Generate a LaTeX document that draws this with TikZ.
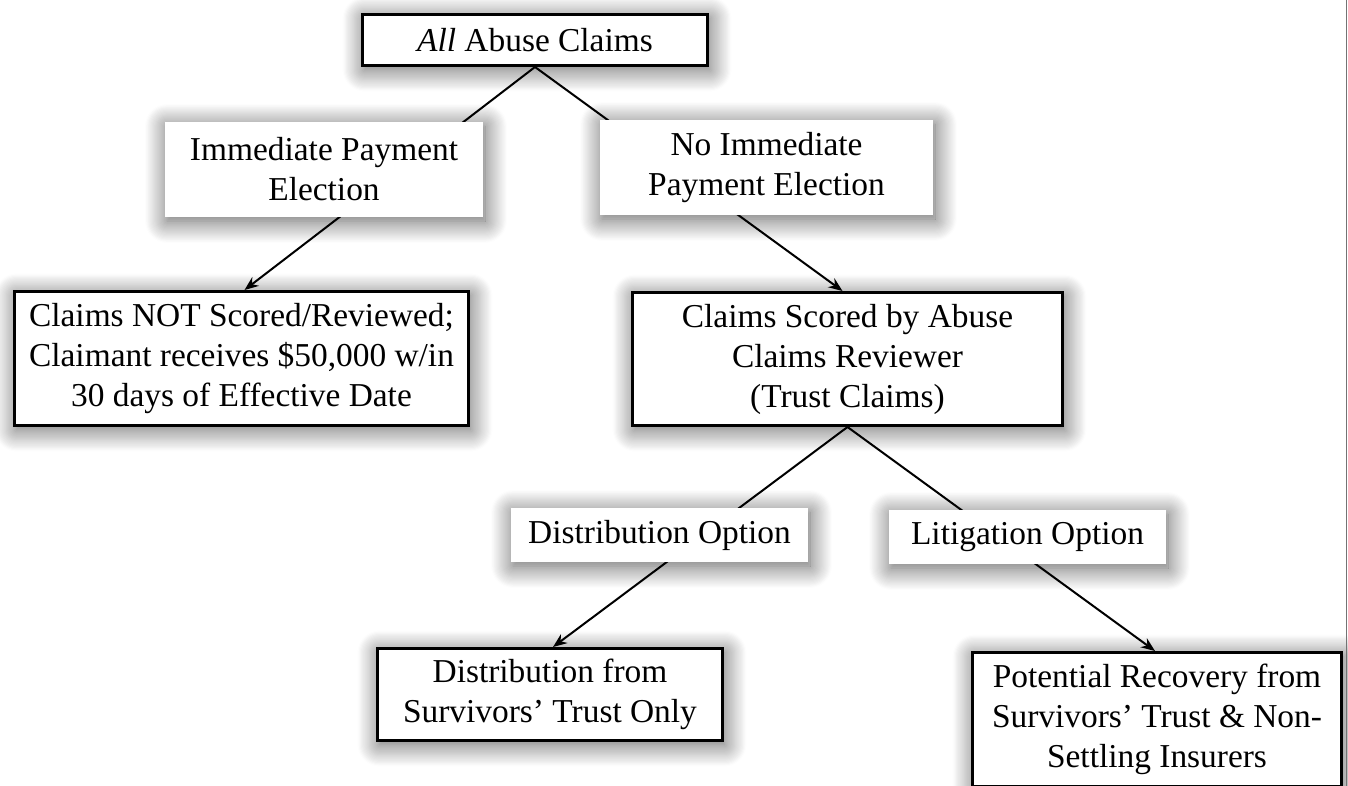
\documentclass[tikz,border=0pt]{standalone}
\usepackage{fontspec}
\setmainfont{Liberation Serif}
\usetikzlibrary{shadows.blur,arrows.meta}
\begin{document}
\begin{tikzpicture}[x=1pt,y=-1pt,
  font=\fontsize{33.4}{40}\selectfont,
  sh/.style={blur shadow={shadow xshift=2pt,shadow yshift=-4pt,shadow blur radius=22pt,shadow blur steps=20,shadow opacity=65}},
  box/.style={draw=black,line width=3pt,fill=white,sh,inner sep=0pt,align=center},
  lbl/.style={fill=white,sh,inner sep=0pt,align=center},
  arr/.style={line width=2pt,-{Stealth[length=14pt,width=11pt]}}]
\useasboundingbox (0,0) rectangle (1348,786);
% boxes
\node[box,minimum width=345pt,minimum height=51pt] (all) at (535,40) {\textit{All} Abuse Claims};
\node[box,minimum width=454pt,minimum height=134pt] (notbox) at (241.5,358.5) {Claims NOT Scored/Reviewed;\\Claimant receives \$50,000 w/in\\30 days of Effective Date};
\node[box,minimum width=430pt,minimum height=133pt] (scored) at (847.5,359) {Claims Scored by Abuse\\Claims Reviewer\\(Trust Claims)};
\node[box,minimum width=345pt,minimum height=92pt] (distbox) at (550,694.5) {Distribution from\\Survivors’ Trust Only};
\node[box,minimum width=369pt,minimum height=134pt] (potbox) at (1157,719.5) {Potential Recovery from\\Survivors’ Trust \& Non-\\Settling Insurers};
% connectors
\draw[arr] (all.south) -- ([xshift=3pt]notbox.north);
\draw[arr] (all.south) -- ([xshift=-5pt]scored.north);
\draw[arr] (scored.south) -- ([xshift=3pt]distbox.north);
\draw[arr] (scored.south) -- ([xshift=-2pt]potbox.north);
% labels
\node[lbl,minimum width=318pt,minimum height=95pt] (imm) at (324,169.5) {Immediate Payment\\Election};
\node[lbl,minimum width=333pt,minimum height=95pt] (noimm) at (766.5,167.5) {No Immediate\\Payment Election};
\node[lbl,minimum width=297pt,minimum height=54pt] (distopt) at (659.5,535) {Distribution Option};
\node[lbl,minimum width=277pt,minimum height=54pt] (litopt) at (1027.5,537) {Litigation Option};
% page edge line
\draw[black!55,line width=1.5pt] (1346.5,0) -- (1346.5,786);
\end{tikzpicture}
\end{document}
